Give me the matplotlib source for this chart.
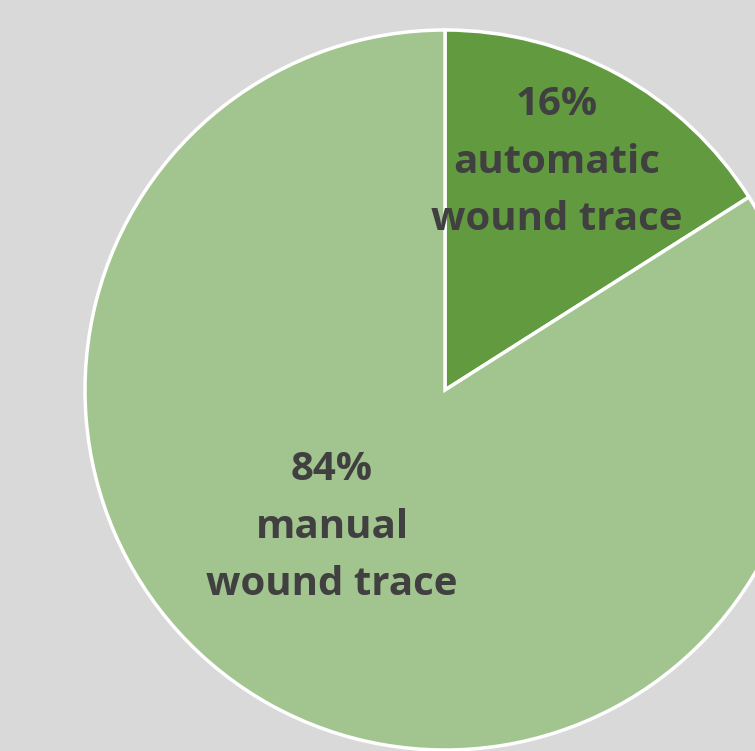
import matplotlib
matplotlib.use('Agg')
import matplotlib.pyplot as plt

labels = ['automatic\nwound trace', 'manual\nwound trace']
shares = [16, 84]
colors = ['#629b3f', '#a2c48f']

fig = plt.figure(figsize=(7.55, 7.51), dpi=100)
fig.patch.set_facecolor('#d9d9d9')
ax = fig.add_axes([0, 0, 1, 1])
ax.set_facecolor('#d9d9d9')

# pie centre at pixel (445, 390), radius 360 px
r = 360.0
ax.pie(shares, colors=colors, startangle=90, counterclock=False,
       radius=1.0, center=(0, 0), frame=True,
       wedgeprops=dict(edgecolor='white', linewidth=2.5))
ax.set_xlim(-445 / r, (755 - 445) / r)
ax.set_ylim(-(751 - 390) / r, 390 / r)
ax.axis('off')

label_pos = [((557 - 445) / r, (390 - 162) / r), ((332 - 445) / r, (390 - 527) / r)]
for s, lab, (x, y) in zip(shares, labels, label_pos):
    ax.text(x, y, f'{s}%\n{lab}', ha='center', va='center', fontsize=29,
            fontweight='bold', family='Open Sans', color='#404040',
            linespacing=1.62)

fig.savefig('out.png', dpi=100, facecolor=fig.get_facecolor())
